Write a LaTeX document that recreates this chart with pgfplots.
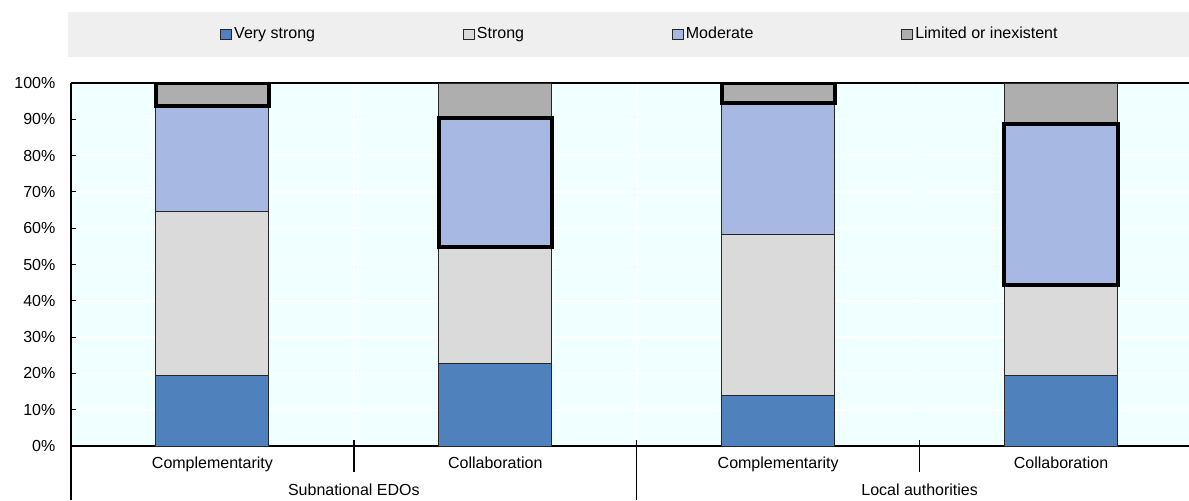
\documentclass[border=0pt]{standalone}
\usepackage{fontspec}
\setmainfont{Liberation Sans}
\usepackage{pgfplots}
\usepackage{pgfplotstable}
\pgfplotsset{compat=1.18}
\definecolor{vstrong}{HTML}{4F81BD}
\definecolor{strong}{HTML}{DADADA}
\definecolor{moderate}{HTML}{A7B9E3}
\definecolor{limited}{HTML}{AEAEAE}
\definecolor{bgc}{HTML}{F0FFFF}
\definecolor{leggray}{HTML}{EFEFEF}

% x: 0 = Subnational EDOs / Complementarity, 1 = Subnational EDOs / Collaboration,
%    2 = Local authorities / Complementarity, 3 = Local authorities / Collaboration
\pgfplotstableread{
x  vs    s     m     l
0  19.4  45.2  29.0  6.4
1  22.6  32.3  35.5  9.6
2  13.9  44.4  36.1  5.6
3  19.4  25.0  44.4  11.2
}\datatable
% split of the "Moderate" and "Limited" values for the highlighted (thick-outlined) segments
\pgfplotstableread{
x  vs    s     mplain mhl   lhl
0  19.4  45.2  29.0   0     6.4
1  22.6  32.3  0      35.5  0
2  13.9  44.4  36.1   0     5.6
3  19.4  25.0  0      44.4  0
}\hltable

\pgfplotsset{
  base/.style={
    scale only axis, width=559pt, height=181.5pt,
    xmin=-0.5, xmax=3.4523, ymin=0, ymax=100,
    ybar stacked, bar width=0.4,
  },
  myleg/.style={legend image code/.code={\draw[##1, line width=0.5pt] (0pt,-2.7pt) rectangle (5.4pt,2.7pt);}},
}

\begin{document}
\begin{tikzpicture}[font=\fontsize{8}{9.6}\selectfont]
\begin{axis}[
  base,
  clip=false,
  axis x line*=box, axis y line*=left,
  axis line style={black, line width=0.7pt},
  axis background/.style={fill=bgc},
  xtick={0,1,2,3},
  xticklabels={Complementarity,Collaboration,Complementarity,Collaboration},
  x tick label style={anchor=base, yshift=-11pt},
  major x tick style={draw=none},
  minor xtick={0.5,1.5,2.5},
  xminorgrids, minor x grid style={white, line width=0.8pt},
  minor x tick style={draw=none},
  ytick={0,10,...,100},
  ymajorgrids, major y grid style={white, line width=0.8pt},
  y tick style={black, line width=0.5pt},
  major tick length=2.5pt,
  yticklabel={\pgfmathprintnumber{\tick}\%},
  y tick label style={xshift=-4.3pt},
  /pgf/number format/assume math mode=true,
  legend columns=4,
  legend cell align=left,
  legend style={at={(0.1333,1.1336)}, anchor=west, draw=none, fill=none,
    inner sep=0pt, nodes={inner sep=1pt},
    /tikz/every even column/.append style={column sep=73pt}},
]
\addplot[fill=vstrong, draw=black!85, line width=0.5pt, myleg] table[x=x, y=vs] {\datatable};
\addlegendentry{Very strong}
\addplot[fill=strong, draw=black!85, line width=0.5pt, myleg] table[x=x, y=s] {\datatable};
\addlegendentry{Strong}
\addplot[fill=moderate, draw=black!85, line width=0.5pt, myleg] table[x=x, y=m] {\datatable};
\addlegendentry{Moderate}
\addplot[fill=limited, draw=black!85, line width=0.5pt, myleg] table[x=x, y=l] {\datatable};
\addlegendentry{Limited or inexistent}

\fill[leggray] (axis cs:-0.5106,107.17) rectangle (axis cs:3.4523,119.56);
% separators below the axis
\draw[black, line width=0.7pt] (axis cs:0.5,1.65) -- (axis cs:0.5,-7.16);
\draw[black, line width=0.7pt] (axis cs:2.5,1.65) -- (axis cs:2.5,-7.16);
\draw[black, line width=0.7pt] (axis cs:-0.5,0) -- (axis cs:-0.5,-14.88);
\draw[black, line width=0.7pt] (axis cs:1.5,1.65) -- (axis cs:1.5,-14.88);
\node[anchor=base, yshift=-24.5pt] at (axis cs:0.5,0) {Subnational EDOs};
\node[anchor=base, yshift=-24.5pt] at (axis cs:2.5,0) {Local authorities};
\coordinate (bl) at (axis cs:-0.7509,-14.88);
\coordinate (tr) at (axis cs:3.4523,122.87);
\end{axis}
\begin{axis}[base, hide axis]
\addplot[draw=none, fill=none] table[x=x, y=vs] {\hltable};
\addplot[draw=none, fill=none] table[x=x, y=s] {\hltable};
\addplot[draw=none, fill=none] table[x=x, y=mplain] {\hltable};
\addplot[draw=black, fill=none, line width=2pt] table[x=x, y=mhl] {\hltable};
\addplot[draw=black, fill=none, line width=2pt] table[x=x, y=lhl] {\hltable};
\end{axis}
\pgfresetboundingbox
\useasboundingbox (bl) rectangle (tr);
\end{tikzpicture}
\end{document}
